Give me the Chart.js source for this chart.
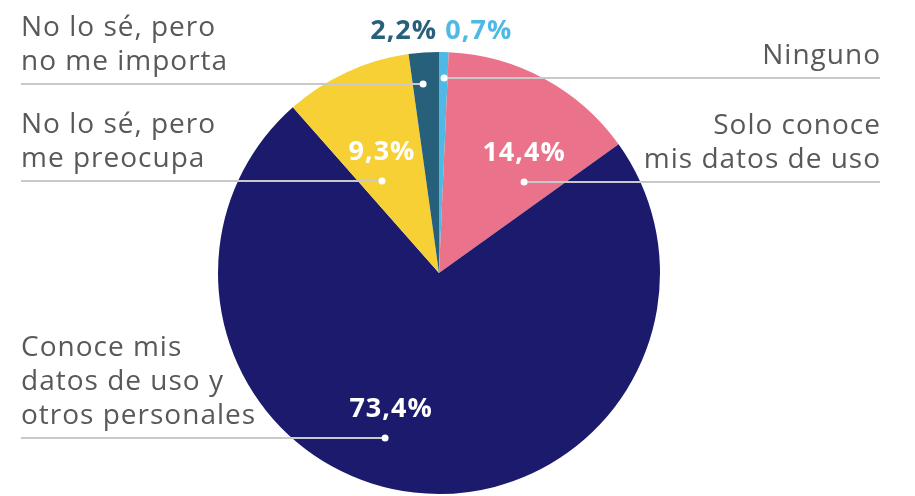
<!DOCTYPE html>
<html>
<head>
<meta charset="utf-8">
<script src="https://cdn.jsdelivr.net/npm/chart.js@4"></script>
<style>
  html, body { margin: 0; padding: 0; background: #fff; }
  #wrap { width: 915px; height: 496px; position: relative; }
</style>
</head>
<body>
<div id="wrap"><canvas id="pieChart" width="915" height="496"></canvas></div>
<script>
// data
const categories = ['Ninguno', 'Solo conoce mis datos de uso', 'Conoce mis datos de uso y otros personales', 'No lo sé, pero me preocupa', 'No lo sé, pero no me importa'];
const values = [0.7, 14.4, 73.4, 9.3, 2.2];
const colors = ['#4fb9e6', '#ea728a', '#1b1a6d', '#f6d035', '#27607b'];

// label layout (wrapped text, side, offsets of dot from the centre in radius units)
const labelText = [
  ['Ninguno'],
  ['Solo conoce', 'mis datos de uso'],
  ['Conoce mis', 'datos de uso y', 'otros personales'],
  ['No lo sé, pero', 'me preocupa'],
  ['No lo sé, pero', 'no me importa']
];
const labelSide = ['right', 'right', 'left', 'left', 'left'];
const dotOffset = [[0.023, -0.882], [0.385, -0.412], [-0.244, 0.747], [-0.258, -0.416], [-0.072, -0.855]];
const pctOutside = [true, false, false, false, true];
const pctShift = [0, 0, 6, 0, 0];

const fmt = v => v.toFixed(1).replace('.', ',') + '%';

const labelPlugin = {
  id: 'leaderLabels',
  afterDatasetsDraw(chart) {
    const { ctx } = chart;
    const arcs = chart.getDatasetMeta(0).data;
    const leftX = 21, rightX = 880, lineGap = 34;
    ctx.save();
    arcs.forEach((arc, i) => {
      const R = arc.outerRadius;
      const dx = arc.x + dotOffset[i][0] * R;
      const dy = arc.y + dotOffset[i][1] * R;
      const endX = labelSide[i] === 'left' ? leftX : rightX;

      // leader line
      ctx.strokeStyle = '#c9c9c9';
      ctx.lineWidth = 2;
      ctx.beginPath();
      ctx.moveTo(endX, dy);
      ctx.lineTo(dx, dy);
      ctx.stroke();

      // dot
      ctx.fillStyle = '#ffffff';
      ctx.beginPath();
      ctx.arc(dx, dy, 3.5, 0, Math.PI * 2);
      ctx.fill();

      // category text
      ctx.fillStyle = '#58595b';
      ctx.font = '400 28px "Open Sans", sans-serif';
      ctx.letterSpacing = '1px';
      ctx.textAlign = labelSide[i];
      ctx.textBaseline = 'alphabetic';
      const lines = labelText[i];
      lines.forEach((t, k) => {
        const y = dy - 14 - (lines.length - 1 - k) * lineGap;
        // trailing letter spacing shifts right-aligned text; compensate
        ctx.fillText(t, labelSide[i] === 'right' ? endX + 1 : endX, y);
      });

      // percentage
      ctx.font = '700 27px "Open Sans", sans-serif';
      ctx.letterSpacing = '1px';
      ctx.textAlign = 'center';
      ctx.textBaseline = 'alphabetic';
      if (pctOutside[i]) {
        ctx.fillStyle = colors[i];
        const px = i === 0 ? arc.x + 0.18 * R : arc.x - 0.16 * R;
        ctx.fillText(fmt(values[i]), px, arc.y - R - 13);
      } else {
        ctx.fillStyle = '#ffffff';
        ctx.fillText(fmt(values[i]), dx + pctShift[i], dy - 21);
      }
    });
    ctx.restore();
  }
};

new Chart(document.getElementById('pieChart'), {
  type: 'pie',
  data: {
    labels: categories,
    datasets: [{
      data: values,
      backgroundColor: colors,
      borderWidth: 0
    }]
  },
  options: {
    responsive: false,
    animation: false,
    layout: { padding: { left: 218, right: 255, top: 52, bottom: 2 } },
    plugins: {
      legend: { display: false },
      tooltip: { enabled: false }
    }
  },
  plugins: [labelPlugin]
});
</script>
</body>
</html>
